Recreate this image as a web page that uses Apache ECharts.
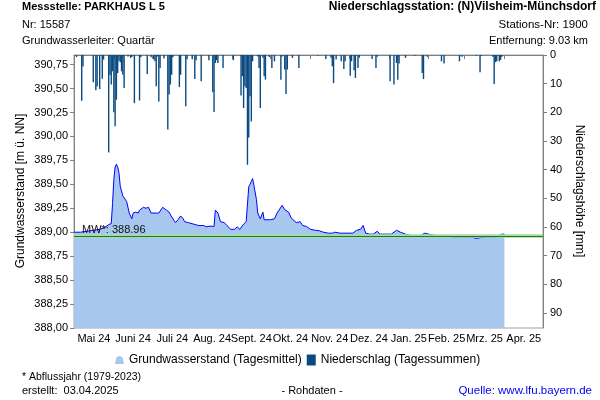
<!DOCTYPE html>
<html>
<head>
<meta charset="utf-8">
<script src="https://cdn.jsdelivr.net/npm/echarts@6/dist/echarts.min.js"></script>
<style>
html,body{margin:0;padding:0;background:#fff;}
#chart{width:600px;height:400px;}
</style>
</head>
<body>
<div id="chart"></div>
<script>
// ---------------- data ----------------
const monthStarts = ['2024-05-01','2024-06-01','2024-07-01','2024-08-01','2024-09-01','2024-10-01','2024-11-01','2024-12-01','2025-01-01','2025-02-01','2025-03-01','2025-04-01','2025-05-01'];
const monthLabels = ['Mai 24','Juni 24','Juli 24','Aug. 24','Sept. 24','Okt. 24','Nov. 24','Dez. 24','Jan. 25','Feb. 25','Mrz. 25','Apr. 25'];

const gwDates = ['2024-05-01','2024-05-06','2024-05-11','2024-05-16','2024-05-21','2024-05-25','2024-05-28','2024-05-30','2024-05-31',
'2024-06-01','2024-06-02','2024-06-03','2024-06-04','2024-06-05','2024-06-06','2024-06-08','2024-06-11','2024-06-13','2024-06-15','2024-06-16','2024-06-18','2024-06-20','2024-06-21','2024-06-24','2024-06-26','2024-06-28','2024-06-30',
'2024-07-01','2024-07-04','2024-07-06','2024-07-09','2024-07-12','2024-07-14','2024-07-16','2024-07-19','2024-07-21','2024-07-23','2024-07-25','2024-07-26','2024-07-29',
'2024-08-02','2024-08-06','2024-08-10','2024-08-12','2024-08-15','2024-08-18','2024-08-19','2024-08-21','2024-08-23','2024-08-26','2024-08-28','2024-08-31',
'2024-09-03','2024-09-05','2024-09-07','2024-09-10','2024-09-12','2024-09-14','2024-09-15','2024-09-16','2024-09-17','2024-09-18','2024-09-20','2024-09-21','2024-09-23','2024-09-25','2024-09-26',
'2024-10-01','2024-10-04','2024-10-06','2024-10-10','2024-10-12','2024-10-15','2024-10-17','2024-10-21','2024-10-24','2024-10-26','2024-10-29',
'2024-11-01','2024-11-05','2024-11-08','2024-11-11','2024-11-15','2024-11-18','2024-11-20','2024-11-24','2024-11-29',
'2024-12-04','2024-12-07','2024-12-10','2024-12-12','2024-12-14','2024-12-17','2024-12-20','2024-12-23','2024-12-25','2024-12-29',
'2025-01-03','2025-01-07','2025-01-10','2025-01-14','2025-01-17','2025-01-21','2025-01-25','2025-01-29',
'2025-02-01','2025-02-05','2025-02-09','2025-02-15','2025-02-20','2025-02-25',
'2025-03-03','2025-03-08','2025-03-10','2025-03-14','2025-03-18','2025-03-25','2025-03-26','2025-03-30','2025-04-01'];
const gwLevels = [389.00,389.00,389.01,389.02,389.03,389.05,389.08,389.09,389.30,
389.55,389.68,389.71,389.68,389.62,389.48,389.38,389.32,389.20,389.14,389.20,389.21,389.20,389.23,389.26,389.25,389.26,389.20,
389.18,389.20,389.20,389.26,389.23,389.21,389.16,389.10,389.13,389.17,389.14,389.11,389.10,
389.085,389.07,389.07,389.056,389.064,389.06,389.23,389.20,389.11,389.10,389.07,389.03,
389.03,389.056,389.03,389.085,389.11,389.475,389.50,389.53,389.56,389.49,389.34,389.20,389.14,389.21,389.13,
389.13,389.14,389.20,389.28,389.235,389.21,389.15,389.10,389.11,389.07,389.06,
389.03,389.02,389.015,389.00,388.99,388.99,389.00,388.99,388.99,
388.99,389.02,389.03,389.07,388.99,388.98,388.98,389.01,388.98,388.98,
388.98,389.02,389.00,388.98,388.97,388.96,388.96,388.99,
388.98,388.97,388.96,388.96,388.95,388.95,
388.95,388.945,388.935,388.945,388.95,388.95,388.97,388.98,388.98];

const rainDates = ['2024-05-03','2024-05-07','2024-05-08','2024-05-16','2024-05-18','2024-05-19','2024-05-21','2024-05-23','2024-05-24','2024-05-28','2024-05-29','2024-05-30','2024-05-31',
'2024-06-01','2024-06-02','2024-06-03','2024-06-04','2024-06-05','2024-06-06','2024-06-07','2024-06-08','2024-06-09','2024-06-12','2024-06-14','2024-06-15','2024-06-17','2024-06-21','2024-06-22','2024-06-27','2024-06-30',
'2024-07-02','2024-07-03','2024-07-04','2024-07-05','2024-07-06','2024-07-07','2024-07-10','2024-07-13','2024-07-14','2024-07-15','2024-07-16','2024-07-17','2024-07-22','2024-07-23','2024-07-27','2024-07-28',
'2024-08-01','2024-08-03','2024-08-04','2024-08-08','2024-08-14','2024-08-17','2024-08-18','2024-08-19','2024-08-20','2024-08-21','2024-08-25',
'2024-09-02','2024-09-08','2024-09-09','2024-09-10','2024-09-11','2024-09-12','2024-09-13','2024-09-14','2024-09-15','2024-09-16','2024-09-17','2024-09-21','2024-09-22','2024-09-23','2024-09-25','2024-09-26','2024-09-27','2024-09-30',
'2024-10-02','2024-10-04','2024-10-09','2024-10-10','2024-10-12','2024-10-13','2024-10-14','2024-10-18','2024-10-23',
'2024-11-07','2024-11-13','2024-11-17','2024-11-18','2024-11-19','2024-11-21','2024-11-25','2024-11-27','2024-11-28',
'2024-12-02','2024-12-03','2024-12-05','2024-12-06','2024-12-08','2024-12-09','2024-12-19','2024-12-22','2024-12-23',
'2025-01-02','2025-01-05','2025-01-07','2025-01-08','2025-01-09','2025-01-14','2025-01-21','2025-01-27','2025-01-28','2025-01-31',
'2025-02-11','2025-02-13','2025-02-25','2025-02-27',
'2025-03-10','2025-03-13','2025-03-14','2025-03-23','2025-03-24','2025-03-25','2025-03-26','2025-03-28','2025-03-29','2025-03-30'];
const rainMm = [0.7,16,4,9.5,12.3,11,11.9,8.3,1.6,34,7,10.3,5.7,
20,24.9,15.6,6.3,2,2.5,5.7,6.9,11.5,0.5,1,0.7,16.8,15.9,0.8,6.6,0.8,
1.5,2.2,10.9,0.5,16.2,4.5,1.2,26,13.8,10.3,6.9,0.8,11.2,6.9,17.9,1.5,
1.5,8.4,1.8,9.2,1.8,13,19.9,2.8,1.8,2.8,4.5,
1.8,14.1,7.4,18.5,10.9,11.5,38.3,28.8,14.4,23.2,2.2,0.5,4.5,18.5,1,7.4,8.6,0.7,
4.5,2.2,8.6,0.5,5.1,13.6,5.1,1,4.5,
0.3,1.4,1,3.9,9.8,1.6,2.2,4.9,2.2,
7.2,2.2,5.3,8,4.5,1,1.4,4.5,0.6,
9.2,10.3,2.8,8.6,3,1,0.3,6.3,8.4,0.6,
2.2,3,2.2,0.6,
0.3,6,0.3,0.6,10.1,2.5,2.2,2.2,1.7,0.6];

const mwValue = 388.96;

// ---------------- helpers ----------------
const origin = Date.UTC(2024, 4, 1);
function dayIndex(s) {
  const p = s.split('-').map(Number);
  return (Date.UTC(p[0], p[1] - 1, p[2]) - origin) / 86400000;
}
const monthStartDays = monthStarts.map(dayIndex);
const monthMidDays = monthLabels.map((_, i) => (monthStartDays[i] + monthStartDays[i + 1]) / 2);
const gwData = gwDates.map((d, i) => [dayIndex(d), gwLevels[i]]);
const rainData = rainDates.map((d, i) => [dayIndex(d), rainMm[i]]);

const FONT = '"Liberation Sans", Arial, sans-serif';
const chart = echarts.init(document.getElementById('chart'), null, {renderer: 'canvas'});

function txt(x, y, text, opts) {
  opts = opts || {};
  return {
    type: 'text', x: x, y: y, rotation: opts.rotation || 0, silent: true,
    style: {
      text: text, fill: opts.color || '#000',
      font: (opts.weight || 'normal') + ' ' + (opts.size || 12) + 'px ' + FONT,
      textAlign: opts.align || 'left', textVerticalAlign: 'middle'
    }
  };
}

const option = {
  animation: false,
  textStyle: {fontFamily: FONT},
  grid: {left: 74, right: 57, top: 55, bottom: 72, show: true, borderColor: '#a0a0a0', borderWidth: 1, backgroundColor: 'transparent'},
  legend: {
    left: 110, top: 349, itemWidth: 9, itemHeight: 11, itemGap: 5,
    textStyle: {fontSize: 12, color: '#000', fontFamily: FONT},
    data: [
      {name: 'Grundwasserstand (Tagesmittel)', icon: 'path://M0,10 L1.5,3 Q5,-1 8.5,3 L10,10 Z', itemStyle: {color: '#a7c7ee'}},
      {name: 'Niederschlag (Tagessummen)', icon: 'rect', itemStyle: {color: '#0b4a80'}}
    ]
  },
  xAxis: {
    type: 'value', min: 0, max: monthStartDays[monthStartDays.length - 1],
    axisLine: {show: true, lineStyle: {color: '#808080'}},
    axisTick: {show: true, customValues: monthStartDays, length: 4, lineStyle: {color: '#808080'}},
    axisLabel: {
      customValues: monthMidDays, fontSize: 11, color: '#000', margin: 5,
      formatter: function (v) {
        let best = 0;
        monthMidDays.forEach((m, i) => { if (Math.abs(m - v) < Math.abs(monthMidDays[best] - v)) best = i; });
        return monthLabels[best];
      }
    },
    splitLine: {show: false}
  },
  yAxis: [
    {
      type: 'value', min: 388, max: 390.85, interval: 0.25, position: 'left',
      axisLine: {show: true, lineStyle: {color: '#808080'}},
      axisTick: {show: true, length: 4, lineStyle: {color: '#808080'}},
      axisLabel: {fontSize: 11, color: '#000', margin: 6, showMaxLabel: false,
        formatter: v => v.toFixed(2).replace('.', ',')},
      splitLine: {show: false}
    },
    {
      type: 'value', min: 0, max: 95.3, interval: 10, inverse: true, position: 'right',
      axisLine: {show: true, lineStyle: {color: '#808080'}},
      axisTick: {show: true, length: 4, lineStyle: {color: '#808080'}},
      axisLabel: {fontSize: 11, color: '#000', margin: 7, showMaxLabel: false},
      splitLine: {show: false}
    }
  ],
  series: [
    {
      name: 'Grundwasserstand (Tagesmittel)', type: 'line', xAxisIndex: 0, yAxisIndex: 0,
      data: gwData, showSymbol: false, symbol: 'none',
      lineStyle: {color: '#0000ff', width: 1},
      itemStyle: {color: '#a7c7ee'},
      areaStyle: {color: '#a7c7ee', opacity: 1, origin: 'start'},
      z: 2,
      markLine: {
        silent: true, symbol: 'none', animation: false,
        data: [
          {yAxis: mwValue, lineStyle: {color: '#a6dca6', width: 3.5, type: 'solid'}, label: {show: false}},
          {yAxis: mwValue, lineStyle: {color: '#1f7a1f', width: 1.2, type: 'solid'},
            label: {show: true, position: 'insideStartTop', formatter: 'MW*: 388.96', color: '#111', fontSize: 11, distance: [8, 1], fontFamily: FONT}}
        ]
      }
    },
    {
      name: 'Niederschlag (Tagessummen)', type: 'bar', xAxisIndex: 0, yAxisIndex: 1,
      data: rainData, barWidth: 1.4, itemStyle: {color: '#0b4a80'}, z: 3
    }
  ],
  graphic: [
    txt(22, 7, 'Messstelle: PARKHAUS L 5', {weight: 'bold', size: 11}),
    txt(22, 25, 'Nr: 15587', {size: 11}),
    txt(22, 41, 'Grundwasserleiter: Quartär', {size: 11}),
    txt(596, 7, 'Niederschlagsstation: (N)Vilsheim-Münchsdorf', {weight: 'bold', align: 'right'}),
    txt(588, 25, 'Stations-Nr: 1900', {align: 'right', size: 11.5}),
    txt(588, 41, 'Entfernung: 9.03 km', {align: 'right', size: 11}),
    txt(21, 191, 'Grundwasserstand [m ü. NN]', {rotation: Math.PI / 2, align: 'center'}),
    txt(579, 191, 'Niederschlagshöhe [mm]', {rotation: -Math.PI / 2, align: 'center'}),
    txt(22, 377, '* Abflussjahr (1979-2023)', {size: 10.5}),
    txt(22, 391, 'erstellt:  03.04.2025', {size: 11}),
    txt(312, 391, '- Rohdaten -', {size: 11, align: 'center'}),
    txt(592, 391, 'Quelle: www.lfu.bayern.de', {size: 11.5, align: 'right', color: '#0000ee'})
  ]
};
chart.setOption(option);
</script>
</body>
</html>
